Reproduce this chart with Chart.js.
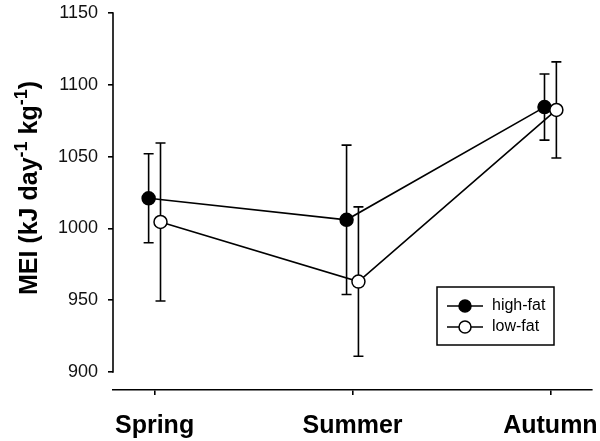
<!DOCTYPE html>
<html>
<head>
<meta charset="utf-8">
<script src="https://cdn.jsdelivr.net/npm/chart.js@4.4.1/dist/chart.umd.min.js"></script>
<style>
  body { margin: 0; background: #fff; }
  #wrap { width: 600px; height: 441px; }
</style>
</head>
<body>
<div id="wrap"><canvas id="chart" width="600" height="441"></canvas></div>
<script>
// Data
var seasons = ['Spring', 'Summer', 'Autumn'];
var highFat = [1021, 1006, 1084.5];
var highFatErr = [31, 52, 23];
var lowFat = [1004.5, 963, 1082.5];
var lowFatErr = [55, 52, 33.5];
var yTicks = [900, 950, 1000, 1050, 1100, 1150];

var FONT = '"Liberation Sans", Arial, sans-serif';
var dodge = 0.03; // small horizontal shift so the two groups don't overlap

function toPoints(values, shift) {
    return values.map(function (v, i) { return { x: i + shift, y: v }; });
}

// Error bars, drawn under the markers
var errorBars = {
    id: 'errorBars',
    beforeDatasetsDraw: function (chart) {
        var ctx = chart.ctx;
        var xs = chart.scales.x, ys = chart.scales.y;
        ctx.save();
        ctx.strokeStyle = '#000';
        ctx.lineWidth = 1.6;
        chart.data.datasets.forEach(function (ds) {
            ds.data.forEach(function (p, i) {
                var x = xs.getPixelForValue(p.x);
                var top = ys.getPixelForValue(p.y + ds.err[i]);
                var bot = ys.getPixelForValue(p.y - ds.err[i]);
                ctx.beginPath();
                ctx.moveTo(x, top); ctx.lineTo(x, bot);
                ctx.moveTo(x - 5, top); ctx.lineTo(x + 5, top);
                ctx.moveTo(x - 5, bot); ctx.lineTo(x + 5, bot);
                ctx.stroke();
            });
        });
        ctx.restore();
    }
};

// Y axis line (only spans 900-1150), y title with superscripts, and legend box
var decorations = {
    id: 'decorations',
    afterDraw: function (chart) {
        var ctx = chart.ctx;
        var ys = chart.scales.y;
        var left = chart.chartArea.left;
        ctx.save();
        ctx.strokeStyle = '#000';
        ctx.lineWidth = 1.6;
        ctx.beginPath();
        ctx.moveTo(left, ys.getPixelForValue(yTicks[0]) + 0.8);
        ctx.lineTo(left, ys.getPixelForValue(yTicks[yTicks.length - 1]) - 0.8);
        ctx.stroke();

        // y axis title
        var parts = [
            { t: 'MEI (kJ day', sup: false },
            { t: '-1', sup: true },
            { t: ' kg', sup: false },
            { t: '-1', sup: true },
            { t: ')', sup: false }
        ];
        var big = 'bold 25px ' + FONT, small = 'bold 18px ' + FONT;
        var total = 0;
        parts.forEach(function (p) {
            ctx.font = p.sup ? small : big;
            p.w = ctx.measureText(p.t).width;
            total += p.w;
        });
        ctx.translate(37, 188);
        ctx.rotate(-Math.PI / 2);
        ctx.fillStyle = '#000';
        ctx.textBaseline = 'alphabetic';
        var cx = -total / 2;
        parts.forEach(function (p) {
            ctx.font = p.sup ? small : big;
            ctx.fillText(p.t, cx, p.sup ? -10 : 0);
            cx += p.w;
        });
        ctx.setTransform(1, 0, 0, 1, 0, 0);

        // legend
        ctx.lineWidth = 1.5;
        ctx.strokeRect(437, 287, 117, 58);
        var rows = [
            { label: 'high-fat', fill: '#000', y: 306 },
            { label: 'low-fat', fill: '#fff', y: 327 }
        ];
        rows.forEach(function (r) {
            ctx.beginPath();
            ctx.moveTo(447, r.y); ctx.lineTo(483, r.y);
            ctx.stroke();
            ctx.beginPath();
            ctx.arc(465, r.y, 6, 0, Math.PI * 2);
            ctx.fillStyle = r.fill;
            ctx.fill();
            ctx.stroke();
            ctx.fillStyle = '#000';
            ctx.font = '16px ' + FONT;
            ctx.textBaseline = 'middle';
            ctx.fillText(r.label, 492, r.y);
        });
        ctx.restore();
    }
};

new Chart(document.getElementById('chart'), {
    type: 'line',
    data: {
        datasets: [{
            label: 'high-fat',
            data: toPoints(highFat, -dodge),
            err: highFatErr,
            borderColor: '#000',
            borderWidth: 1.6,
            pointRadius: 6.5,
            pointBackgroundColor: '#000',
            pointBorderColor: '#000',
            pointBorderWidth: 1.5,
            order: 1
        }, {
            label: 'low-fat',
            data: toPoints(lowFat, dodge),
            err: lowFatErr,
            borderColor: '#000',
            borderWidth: 1.6,
            pointRadius: 6.5,
            pointBackgroundColor: '#fff',
            pointBorderColor: '#000',
            pointBorderWidth: 1.5,
            order: 0
        }]
    },
    options: {
        responsive: false,
        animation: false,
        layout: { padding: { top: 13, right: 8, left: 0, bottom: 0 } },
        plugins: { legend: { display: false }, tooltip: { enabled: false } },
        scales: {
            x: {
                type: 'linear',
                min: -0.21,
                max: 2.21,
                afterBuildTicks: function (scale) {
                    scale.ticks = seasons.map(function (s, i) { return { value: i }; });
                },
                afterFit: function (scale) {
                    scale.height = 51;
                    scale.paddingLeft = 0;
                    scale.paddingRight = 0;
                },
                ticks: {
                    callback: function (v) { return seasons[v]; },
                    font: { family: FONT, size: 25, weight: 'bold' },
                    color: '#000',
                    padding: 16,
                    maxRotation: 0
                },
                grid: { drawOnChartArea: false, tickLength: 5, color: '#000', lineWidth: 1.6 },
                border: { display: true, color: '#000', width: 1.6 }
            },
            y: {
                min: 887.5,
                max: 1150,
                afterBuildTicks: function (scale) {
                    scale.ticks = yTicks.map(function (v) { return { value: v }; });
                },
                afterFit: function (scale) {
                    scale.width = 113;
                    scale.paddingTop = 0;
                    scale.paddingBottom = 0;
                },
                ticks: {
                    callback: function (v) { return String(v); },
                    font: { family: FONT, size: 18 },
                    color: '#111',
                    padding: 10
                },
                grid: { drawOnChartArea: false, tickLength: 5, color: '#000', lineWidth: 1.6 },
                border: { display: false }
            }
        }
    },
    plugins: [errorBars, decorations]
});
</script>
</body>
</html>
